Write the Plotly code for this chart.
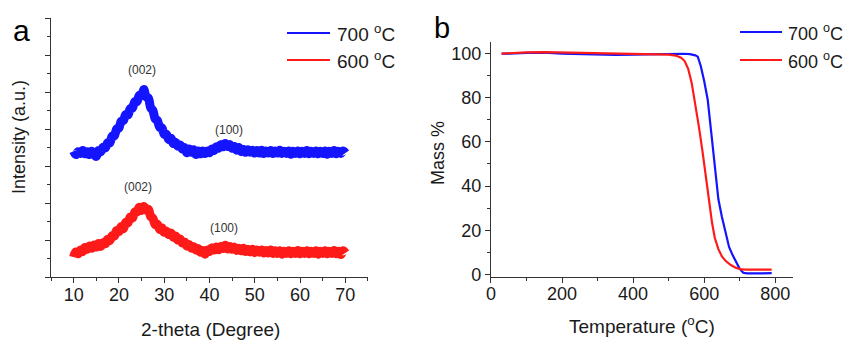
import plotly.graph_objects as go

# ---------------- Panel a: XRD ----------------
TWO_THETA_START = 10.0
TWO_THETA_STEP = 0.5
xrd_700 = [
    3.40, 3.31, 3.39, 3.34, 3.42, 3.33, 3.39, 3.31, 3.40, 3.33,
    3.26, 3.42, 3.39, 3.51, 3.49, 3.63, 3.63, 3.81, 3.82, 4.00,
    4.03, 4.21, 4.23, 4.39, 4.38, 4.55, 4.57, 4.74, 4.74, 4.91,
    4.90, 5.07, 4.87, 4.84, 4.58, 4.50, 4.28, 4.23, 4.05, 4.03,
    3.86, 3.86, 3.72, 3.75, 3.61, 3.64, 3.54, 3.57, 3.46, 3.50,
    3.36, 3.46, 3.37, 3.44, 3.31, 3.41, 3.33, 3.41, 3.34, 3.41,
    3.36, 3.46, 3.42, 3.52, 3.48, 3.58, 3.52, 3.61, 3.53, 3.58,
    3.48, 3.53, 3.43, 3.50, 3.39, 3.45, 3.37, 3.44, 3.37, 3.43,
    3.35, 3.42, 3.35, 3.43, 3.34, 3.41, 3.35, 3.42, 3.34, 3.41,
    3.35, 3.43, 3.34, 3.40, 3.34, 3.41, 3.32, 3.40, 3.34, 3.41,
    3.33, 3.40, 3.34, 3.42, 3.33, 3.40, 3.34, 3.41, 3.33, 3.40,
    3.34, 3.41, 3.32, 3.40, 3.34, 3.42, 3.33, 3.40, 3.34, 3.41,
    3.35,
]
xrd_600 = [
    0.54, 0.68, 0.63, 0.73, 0.69, 0.80, 0.75, 0.84, 0.78, 0.87,
    0.81, 0.91, 0.83, 0.93, 0.90, 1.02, 0.99, 1.12, 1.11, 1.26,
    1.23, 1.36, 1.31, 1.48, 1.47, 1.62, 1.60, 1.76, 1.76, 1.89,
    1.80, 1.91, 1.81, 1.83, 1.64, 1.59, 1.42, 1.43, 1.29, 1.33,
    1.21, 1.24, 1.15, 1.19, 1.08, 1.11, 1.00, 1.03, 0.92, 0.95,
    0.84, 0.88, 0.78, 0.82, 0.73, 0.77, 0.67, 0.72, 0.62, 0.73,
    0.69, 0.79, 0.73, 0.81, 0.74, 0.83, 0.77, 0.86, 0.76, 0.83,
    0.75, 0.81, 0.72, 0.78, 0.71, 0.78, 0.69, 0.75, 0.68, 0.75,
    0.66, 0.73, 0.67, 0.73, 0.65, 0.72, 0.65, 0.73, 0.64, 0.71,
    0.64, 0.71, 0.62, 0.70, 0.64, 0.71, 0.63, 0.70, 0.64, 0.72,
    0.63, 0.70, 0.64, 0.71, 0.63, 0.70, 0.64, 0.71, 0.62, 0.70,
    0.64, 0.71, 0.63, 0.70, 0.64, 0.72, 0.63, 0.70, 0.61, 0.71,
    0.65,
]
two_theta = [round(TWO_THETA_START + TWO_THETA_STEP * i, 2) for i in range(len(xrd_700))]

# ---------------- Panel b: TGA ----------------
temp_700 = [30, 50, 100, 150, 200, 250, 300, 350, 400, 450, 500, 540, 560, 575,
            582, 590, 600, 610, 620, 630, 640, 650, 660, 670, 680, 690, 700, 710,
            720, 750, 790]
mass_700 = [99.9, 99.8, 100.2, 100.3, 99.9, 99.6, 99.4, 99.3, 99.4, 99.6, 99.8, 99.8, 99.6, 99.1,
            98.5, 94.5, 87.5, 79.0, 64.0, 47.5, 34.0, 26.0, 18.5, 12.5, 8.8, 5.7, 2.6, 0.8,
            0.5, 0.5, 0.6]
temp_600 = [30, 50, 100, 150, 200, 250, 300, 350, 400, 450, 480, 500, 520, 535,
            545, 555, 565, 575, 585, 595, 605, 615, 622, 630, 640, 650, 660, 675,
            690, 705, 720, 750, 790]
mass_600 = [99.9, 100.1, 100.4, 100.5, 100.3, 100.1, 100.0, 99.9, 99.8, 99.6, 99.5, 99.4, 99.0, 98.0,
            96.5, 93.0, 86.5, 77.5, 67.0, 56.0, 45.0, 32.0, 23.5, 16.5, 11.5, 8.2, 6.2, 4.3,
            3.0, 2.3, 2.2, 2.1, 2.2]

series_names = ["700 <sup>o</sup>C", "600 <sup>o</sup>C"]
BLUE = "#1414ff"
RED = "#ff1a1a"
series_colors = [BLUE, RED]

xrd_peak_labels = ["(002)", "(100)", "(002)", "(100)"]
xrd_peak_x = [25.0, 44.4, 24.3, 43.3]
xrd_peak_y = [5.59, 3.97, 2.43, 1.32]

FONT = "Liberation Sans, Arial, sans-serif"
INK = "#1a1a1a"
W, H = 843, 340

fig = go.Figure()

# XRD data (thick smoothed lines render the dense noisy band)
fig.add_trace(go.Scatter(x=two_theta, y=xrd_700, mode="lines",
                         line=dict(color=BLUE, width=9, shape="spline", smoothing=1),
                         name=series_names[0], showlegend=False, xaxis="x", yaxis="y"))
fig.add_trace(go.Scatter(x=two_theta, y=xrd_600, mode="lines",
                         line=dict(color=RED, width=9, shape="spline", smoothing=1),
                         name=series_names[1], showlegend=False, xaxis="x", yaxis="y"))

# TGA data
fig.add_trace(go.Scatter(x=temp_700, y=mass_700, mode="lines", line=dict(color=BLUE, width=2.2),
                         name=series_names[0], showlegend=False, xaxis="x2", yaxis="y2"))
fig.add_trace(go.Scatter(x=temp_600, y=mass_600, mode="lines", line=dict(color=RED, width=2.2),
                         name=series_names[1], showlegend=False, xaxis="x2", yaxis="y2"))

axis_common = dict(showline=True, linecolor="#333333", linewidth=1.2, showgrid=False,
                   zeroline=False, ticks="outside", tickcolor="#333333", tickwidth=1.2,
                   ticklen=5, tickfont=dict(size=18, color=INK, family=FONT), automargin=False)

fig.update_layout(
    width=W, height=H,
    margin=dict(l=0, r=0, t=0, b=0, autoexpand=False),
    paper_bgcolor="white", plot_bgcolor="white",
    font=dict(family=FONT, color=INK),
    showlegend=False,
    xaxis=dict(domain=[0.0605, 0.4365], range=[5, 75], tickmode="array",
               tickvals=[10, 20, 30, 40, 50, 60, 70], anchor="y", ticklabelstandoff=-4,
               minor=dict(tickvals=[5, 15, 25, 35, 45, 55, 65, 75], ticklen=3, tickcolor="#333333", ticks="outside"),
               **axis_common),
    yaxis=dict(domain=[0.185, 0.947], range=[0, 7], dtick=1, showticklabels=False, anchor="x",
               minor=dict(dtick=0.5, ticklen=3, tickcolor="#333333", ticks="outside"),
               **axis_common),
    xaxis2=dict(domain=[0.5824, 0.9407], range=[0, 850], tickmode="array",
                tickvals=[0, 200, 400, 600, 800], anchor="y2", ticklabelstandoff=-4,
                minor=dict(tickvals=[100, 300, 500, 700], ticklen=3, tickcolor="#333333", ticks="outside"),
                **axis_common),
    yaxis2=dict(domain=[0.186, 0.877], range=[-1, 105.2], tickmode="array",
                tickvals=[0, 20, 40, 60, 80, 100], anchor="x2",
                minor=dict(tickvals=[10, 30, 50, 70, 90], ticklen=3, tickcolor="#333333", ticks="outside"),
                **axis_common),
)

# manual legends (line sample + label) for both panels
legend_specs = [
    # (line x0, line x1, text x, row y list, font size)
    (287, 330, 335, [33, 60], 19),
    (740, 782, 786, [32, 60], 18),
]
shapes = []
annotations = []
for x0, x1, tx, rows, fs in legend_specs:
    for name, color, ry in zip(series_names, series_colors, rows):
        shapes.append(dict(type="line", xref="paper", yref="paper",
                           x0=x0 / W, x1=x1 / W, y0=1 - ry / H, y1=1 - ry / H,
                           line=dict(color=color, width=2)))
        annotations.append(dict(x=tx / W, y=1 - ry / H, xref="paper", yref="paper",
                                xanchor="left", yanchor="middle", text=name, showarrow=False,
                                font=dict(size=fs, color=INK, family=FONT)))

for lab, px, py in zip(xrd_peak_labels, xrd_peak_x, xrd_peak_y):
    annotations.append(dict(x=px, y=py, xref="x", yref="y", text=lab, showarrow=False,
                            xanchor="center", yanchor="middle",
                            font=dict(size=12, color="#333333", family=FONT)))


def paper_text(px, py, text, size, angle=0, color=INK):
    return dict(x=px / W, y=1 - py / H, xref="paper", yref="paper", text=text,
                showarrow=False, xanchor="center", yanchor="middle", textangle=angle,
                font=dict(size=size, color=color, family=FONT))


annotations += [
    paper_text(21, 30, "a", 30, color="black"),
    paper_text(442, 28, "b", 29, color="black"),
    paper_text(210, 329, "2-theta (Degree)", 19),
    paper_text(642, 325, "Temperature (<sup>o</sup>C)", 19),
    paper_text(19, 137, "Intensity (a.u.)", 18, angle=-90),
    paper_text(438, 153, "Mass %", 18, angle=-90),
]
fig.update_layout(annotations=annotations, shapes=shapes)

fig.write_html("out.html", config={"displayModeBar": False},
               post_script="document.body.style.margin='0';document.body.style.overflow='hidden';")
